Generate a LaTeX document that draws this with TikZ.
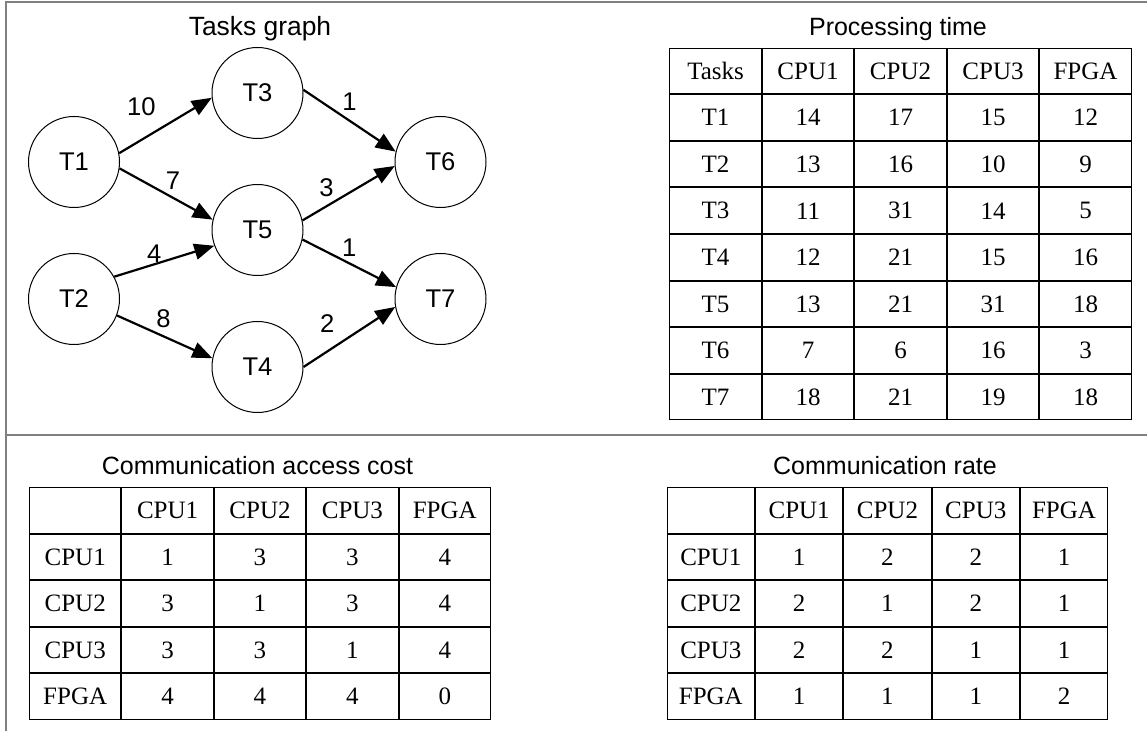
\documentclass[tikz,border=0pt]{standalone}
\usepackage{fontspec}
\setmainfont{Liberation Serif}
\setsansfont{Liberation Sans}
\usetikzlibrary{arrows.meta,matrix}

\begin{document}
\begin{tikzpicture}[x=0.5pt,y=-0.5pt,
						task/.style = {circle,draw,line width=0.5pt,minimum size=45.5pt,inner sep=0pt,font=\sffamily\fontsize{12.8}{15}\selectfont},
						dep/.style = {line width=1.1pt,-{Triangle[length=10pt,width=8pt]}},
						wgt/.style = {font=\sffamily\fontsize{12.8}{15}\selectfont,inner sep=0pt},
						ttl/.style = {font=\sffamily\fontsize{12.5}{15}\selectfont,anchor=base},
						tab/.style = {matrix of nodes,nodes in empty cells,inner sep=0pt,outer sep=0pt,anchor=north west,
							column sep=0pt,row sep=0pt,
							nodes={draw,anchor=center,line width=0.5pt,inner sep=0pt,outer sep=0pt,font=\fontsize{12.5}{15}\selectfont}}
						]

					\useasboundingbox (0,0) rectangle (1147,731);

					\draw[gray,line width=1pt] (1147,2) -| (6,731);
					\draw[gray,line width=1pt] (6,435.5) -- (1147,435.5);

					\node[ttl,font=\sffamily\fontsize{13.2}{15}\selectfont] (gtitle) at (260,36) {Tasks graph};

					\node[task] (T1) at (74,162) {T1};
					\node[task] (T2) at (74,299) {T2};
					\node[task] (T3) at (257.5,93) {T3};
					\node[task] (T5) at (257.5,230) {T5};
					\node[task] (T4) at (257.5,367) {T4};
					\node[task] (T6) at (440.5,162) {T6};
					\node[task] (T7) at (440.5,299) {T7};

					\draw[dep] (T1.11) -- node[wgt,xshift=-12pt,yshift=9.25pt]{10} (T3.186);
					\draw[dep] (T1.352) -- node[wgt,xshift=3.4pt,yshift=6.6pt]{7} (T5.167.5);
					\draw[dep] (T2.29) -- node[wgt,xshift=-5pt,yshift=4pt]{4} (T5.200);
					\draw[dep] (T2.339) -- node[wgt,xshift=-0.6pt,yshift=9.1pt]{8} (T4.169);
					\draw[dep] (T3.4) -- node[wgt,yshift=9.45pt]{1} (T6.167);
					\draw[dep] (T5.12.5) -- node[wgt,xshift=-11pt,yshift=3pt]{3} (T6.185);
					\draw[dep] (T5.348.5) -- node[wgt,yshift=7.9pt]{1} (T7.165.6);
					\draw[dep] (T4.0) -- node[wgt,xshift=-11pt,yshift=6.75pt]{2} (T7.190);

					\node[ttl] (ptitle) at (898,35.5) {Processing time};
					\matrix[tab,nodes={minimum width=45.75pt,minimum height=22.8pt}] (ptime) at (669.3,47.7) {
						Tasks & CPU1 & CPU2 & CPU3 & FPGA \\
						T1 & 14 & 17 & 15 & 12 \\
						T2 & 13 & 16 & 10 & 9 \\
						T3 & 11 & 31 & 14 & 5 \\
						T4 & 12 & 21 & 15 & 16 \\
						T5 & 13 & 21 & 31 & 18 \\
						T6 & 7 & 6 & 16 & 3 \\
						T7 & 18 & 21 & 19 & 18 \\
					};

					\node[ttl] (ctitle) at (257.5,474.3) {Communication access cost};
					\matrix[tab,nodes={minimum width=45.7pt,minimum height=22.75pt}] (cost) at (29,487.3) {
						 & CPU1 & CPU2 & CPU3 & FPGA \\
						CPU1 & 1 & 3 & 3 & 4 \\
						CPU2 & 3 & 1 & 3 & 4 \\
						CPU3 & 3 & 3 & 1 & 4 \\
						FPGA & 4 & 4 & 4 & 0 \\
					};

					\node[ttl] (rtitle) at (885,474.3) {Communication rate};
					\matrix[tab,nodes={minimum width=43.65pt,minimum height=22.75pt}] (rate) at (666.7,487.3) {
						 & CPU1 & CPU2 & CPU3 & FPGA \\
						CPU1 & 1 & 2 & 2 & 1 \\
						CPU2 & 2 & 1 & 2 & 1 \\
						CPU3 & 2 & 2 & 1 & 1 \\
						FPGA & 1 & 1 & 1 & 2 \\
					};

				\end{tikzpicture}
\end{document}
